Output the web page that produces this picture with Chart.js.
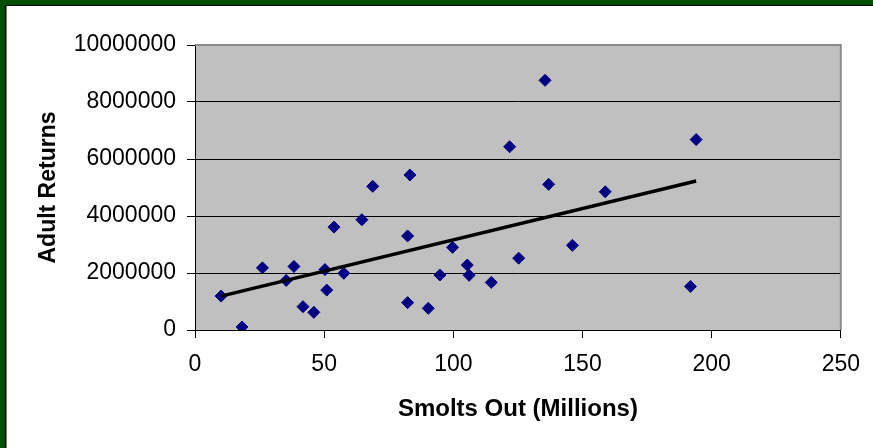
<!DOCTYPE html>
<html>
<head>
<meta charset="utf-8">
<script src="https://cdn.jsdelivr.net/npm/chart.js@4/dist/chart.umd.min.js"></script>
<style>
  html, body { margin: 0; padding: 0; background: #ffffff; }
  canvas { display: block; }
</style>
</head>
<body>
<canvas id="smoltChart" width="873" height="448"></canvas>
<script>
// Smolts out (millions) vs adult returns
const smolts = [10.1, 18.2, 26.1, 35.3, 38.3, 41.8, 46.0, 50.3, 51.0, 53.8, 57.6, 64.6, 68.8,
                82.3, 83.2, 82.3, 90.3, 94.8, 99.7, 105.4, 106.1, 114.7, 121.8, 125.3,
                135.5, 136.9, 146.1, 158.8, 191.8, 194.0];
const returns = [1190000, 105000, 2180000, 1740000, 2230000, 820000, 620000, 2120000, 1400000, 3610000,
                 1990000, 3870000, 5040000, 3300000, 5440000, 960000, 760000, 1930000, 2900000,
                 2280000, 1920000, 1670000, 6430000, 2520000, 8760000, 5110000, 2970000, 4850000,
                 1530000, 6680000];
// trend line end points
const trendX = [10.1, 194.0];
const trendY = [1190000, 5230000];

const xTicks = [0, 50, 100, 150, 200, 250];
const yTicks = [0, 2000000, 4000000, 6000000, 8000000, 10000000];

const FONT = "'Liberation Sans', Arial, sans-serif";

// white page, green frame, gray plot area
const backdrop = {
    id: 'backdrop',
    beforeDraw(chart) {
        const ctx = chart.ctx;
        const a = chart.chartArea;
        ctx.save();
        ctx.fillStyle = '#ffffff';
        ctx.fillRect(0, 0, chart.width, chart.height);
        ctx.fillStyle = '#004f00';
        ctx.fillRect(0, 0, chart.width, 5);
        ctx.fillRect(0, 0, 5, chart.height);
        ctx.fillStyle = '#000000';
        ctx.fillRect(5, 5, chart.width, 1);
        ctx.fillRect(5, 5, 1.5, chart.height);
        ctx.fillStyle = '#c0c0c0';
        ctx.fillRect(a.left, a.top, a.right - a.left, a.bottom - a.top);
        ctx.restore();
    },
    beforeDatasetsDraw(chart) {
        const ctx = chart.ctx;
        const a = chart.chartArea;
        ctx.save();
        ctx.strokeStyle = '#8a8a8a';
        ctx.lineWidth = 2;
        ctx.beginPath();
        ctx.moveTo(a.left, a.top);
        ctx.lineTo(a.right, a.top);
        ctx.lineTo(a.right, a.bottom);
        ctx.stroke();
        ctx.restore();
    }
};

const pts = smolts.map((x, i) => ({ x: x, y: returns[i] }));
const trend = trendX.map((x, i) => ({ x: x, y: trendY[i] }));

new Chart(document.getElementById('smoltChart').getContext('2d'), {
    type: 'scatter',
    data: {
        datasets: [{
            label: 'Adult Returns',
            data: pts,
            pointStyle: 'rectRot',
            pointRadius: 6,
            pointBackgroundColor: '#000080',
            pointBorderColor: '#000080',
            pointBorderWidth: 1,
            order: 1
        }, {
            label: 'Trend',
            type: 'line',
            data: trend,
            borderColor: '#000000',
            borderWidth: 3.5,
            pointRadius: 0,
            fill: false,
            order: 0
        }]
    },
    options: {
        responsive: false,
        animation: false,
        devicePixelRatio: 1,
        layout: { padding: { left: 31, right: 30, top: 45, bottom: 20 } },
        plugins: {
            legend: { display: false },
            tooltip: { enabled: false }
        },
        scales: {
            x: {
                type: 'linear',
                min: 0,
                max: 250,
                afterBuildTicks: s => { s.ticks = xTicks.map(v => ({ value: v })); },
                afterFit: s => { s.height = 98; },
                grid: { drawOnChartArea: false, drawTicks: true, tickLength: 8, tickColor: '#000000' },
                border: { color: '#000000', width: 1 },
                ticks: { color: '#000000', font: { family: FONT, size: 23 }, padding: 13, maxRotation: 0 },
                title: { display: true, text: 'Smolts Out (Millions)', color: '#000000',
                         font: { family: FONT, size: 24, weight: 'bold' } }
            },
            y: {
                type: 'linear',
                min: 0,
                max: 10000000,
                afterBuildTicks: s => { s.ticks = yTicks.map(v => ({ value: v })); },
                afterFit: s => { s.width = 164; },
                grid: {
                    color: c => (c.tick && (c.tick.value === 0 || c.tick.value === 10000000)) ? 'rgba(0,0,0,0)' : '#000000',
                    lineWidth: 1,
                    tickLength: 8,
                    tickColor: '#000000'
                },
                border: { color: '#000000', width: 1 },
                ticks: { color: '#000000', font: { family: FONT, size: 23 }, padding: 11,
                         callback: v => String(v) },
                title: { display: true, text: 'Adult Returns', color: '#000000',
                         font: { family: FONT, size: 23, weight: 'bold' } }
            }
        }
    },
    plugins: [backdrop]
});
</script>
</body>
</html>
